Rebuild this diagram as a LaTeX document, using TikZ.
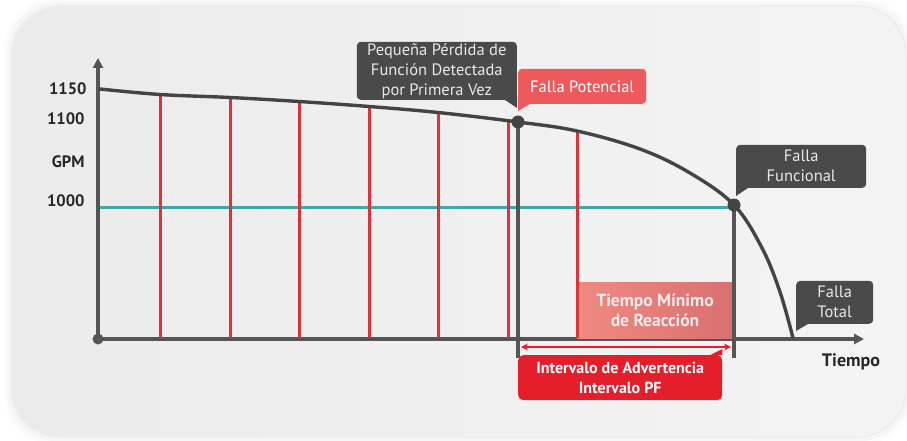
\documentclass[tikz,border=0pt]{standalone}
\usepackage{fontspec}
\setmainfont{PT Sans}
\usetikzlibrary{positioning,arrows.meta}

\definecolor{panelleft}{HTML}{EBEBEB}
\definecolor{panelright}{HTML}{F4F4F4}
\definecolor{axisgray}{HTML}{555555}
\definecolor{curvegray}{HTML}{444444}
\definecolor{calldark}{HTML}{4A4A4A}
\definecolor{calltext}{HTML}{E8E8E8}
\definecolor{gridred}{HTML}{E0303A}
\definecolor{tealline}{HTML}{3FA7A8}
\definecolor{potred}{HTML}{EE5A5C}
\definecolor{pfred}{HTML}{E41E2B}
\definecolor{salmonleft}{HTML}{F08A80}
\definecolor{salmonright}{HTML}{D87070}

\tikzset{
  darkbox/.style={fill=calldark, text=calltext, rounded corners=4pt, align=center,
    inner sep=0pt, font=\fontsize{16.5}{20}\selectfont},
  redbox/.style={fill=potred, text=white, rounded corners=4pt, align=center,
    inner sep=0pt, font=\fontsize{16.5}{20}\selectfont},
  ticklabel/.style={anchor=east, font=\fontsize{16.5}{18}\selectfont\bfseries, text=black!85},
  gridline/.style={gridred, line width=3pt},
  axisline/.style={axisgray, line width=3.4pt},
}

\begin{document}
\begin{tikzpicture}[x=1pt, y=-1pt, >=stealth]
    \useasboundingbox (0,0) rectangle (907,441);

    % the panel with its soft shadow
    \foreach \s/\o in {8/0.015, 5/0.02, 2/0.03}
    \fill[black, opacity=\o, rounded corners=50pt] (12-\s,7-\s) rectangle (905+\s,436+\s);
    \shade[left color=panelleft, right color=panelright, rounded corners=48pt]
        (12,7) rectangle (905,436);

    % the axes
    \coordinate (origin) at (98,339);
    \coordinate (ytop) at (98,58);
    \coordinate (xend) at (864,339);
    \draw[axisline, -{Triangle[length=10pt, width=10pt]}] (origin) -- (ytop);
    \draw[axisline, -{Triangle[length=10pt, width=10pt]}] (origin) -- (xend);
    \fill[axisgray] (origin) circle [radius=5.5pt];

    % the labels on the axes
    \node[ticklabel] (l1150) at (90,89) {1150};
    \node[ticklabel] (l1100) at (88,119) {1100};
    \node[ticklabel] (lgpm) at (88,162) {GPM};
    \node[ticklabel] (l1000) at (88,201) {1000};
    \node[font=\fontsize{18}{20}\selectfont\bfseries, text=black!85] (tiempo) at (851,362) {Tiempo};

    % the teal line at 1000
    \coordinate (ff) at (734,205);
    \draw[tealline, line width=3pt] (100,207) -- (ff |- 0,207);

    % the red vertical lines below the curve
    \foreach \x/\y in {160/94.5, 230/97.5, 299/101.5, 369/106.5, 438/112.5, 508/120.5, 577/131}
    \draw[gridline] (\x,\y) -- (\x,338);

    % the time box for the reaction
    \shade[left color=salmonleft, right color=salmonright] (577,282) rectangle (733,338);
    \draw[gridline] (577,131) -- (577,338);
    \node[font=\fontsize{17.5}{20}\selectfont\bfseries, text=white!92!red, align=center]
        (reaccion) at (655,310) {Tiempo Mínimo\\de Reacción};

    % the curve
    \draw[curvegray, line width=3.4pt, line cap=round] plot[smooth, tension=0.6] coordinates {
        (100,89) (160,94.5) (230,97.5) (299,101.5) (369,106.5) (438,112.5) (518,122)
        (577,131) (640,149) (690,173) (734,205) (762,248) (780,292) (793,338)};

    % the two dark vertical lines and the dots
    \coordinate (pf) at (518,122);
    \draw[axisline] (pf) -- (518,358);
    \draw[axisline] (ff) -- (734,358);
    \fill[curvegray] (pf) circle [radius=6.5pt];
    \fill[curvegray] (ff) circle [radius=6.5pt];

    % the interval arrow and its box
    \coordinate (arrleft) at (521,347);
    \coordinate (arrright) at (731,347);
    \draw[pfred, line width=2.2pt, {Stealth[length=7pt, width=7pt]}-{Stealth[length=7pt, width=7pt]}] (arrleft) -- (arrright);
    \node[fill=pfred, text=white, rounded corners=5pt, inner sep=0pt, align=center,
        minimum width=204pt, minimum height=45pt, anchor=north west,
        font=\fontsize{16}{20}\selectfont\bfseries] (intervalo) at (518,355)
        {Intervalo de Advertencia\\Intervalo PF};
    \fill[pfred] ([xshift=-12pt]intervalo.north east) -- ([yshift=6pt]intervalo.north east) -- (intervalo.north east) -- cycle;

    % the callouts
    \node[darkbox, minimum width=160pt, minimum height=58pt, anchor=south east] (perdida) at (517,100)
        {Pequeña Pérdida de\\Función Detectada\\por Primera Vez};
    \fill[calldark] ([xshift=-12pt]perdida.south east) -- ([yshift=-8pt]perdida.south east) -- ([yshift=4pt]perdida.south east) -- cycle;

    \node[redbox, minimum width=128pt, minimum height=35pt, anchor=south west] (potencial) at (518,104)
        {Falla Potencial};
    \fill[potred] ([xshift=12pt]potencial.south west) -- ([yshift=-7pt]potencial.south west) -- ([yshift=4pt]potencial.south west) -- cycle;

    \node[darkbox, minimum width=130pt, minimum height=43pt, anchor=south west] (funcional) at (736,188)
        {Falla\\Funcional};
    \fill[calldark] ([xshift=12pt]funcional.south west) -- ([yshift=-8pt]funcional.south west) -- ([yshift=4pt]funcional.south west) -- cycle;

    \node[darkbox, minimum width=77pt, minimum height=43pt, anchor=south west] (total) at (796,324)
        {Falla\\Total};
    \fill[calldark] ([xshift=12pt]total.south west) -- ([yshift=-7pt]total.south west) -- ([yshift=4pt]total.south west) -- cycle;
\end{tikzpicture}
\end{document}
